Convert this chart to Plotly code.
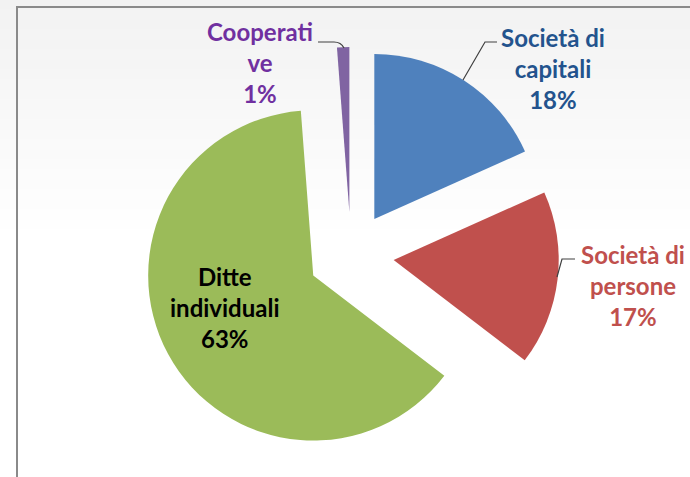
import plotly.graph_objects as go

categories = ["Società di capitali", "Società di persone", "Ditte individuali", "Cooperative"]
display_labels = ["Società di<br>capitali", "Società di<br>persone", "Ditte<br>individuali", "Cooperati<br>ve"]
values = [18.3, 17.1, 63.4, 1.2]

slice_colors = ["#4F81BD", "#C0504D", "#9BBB59", "#8064A2"]
text_colors = ["#23538D", "#C0504D", "#000000", "#7030A0"]

W, H = 690, 477

# label centres in pixels (layout, not data)
label_pos = [(553, 68), (633, 285), (225, 307), (260, 63)]

fig = go.Figure()
fig.add_trace(go.Pie(
    labels=categories,
    values=values,
    textinfo="none",
    sort=False,
    direction="clockwise",
    rotation=0,
    pull=[0.26, 0.26, 0.26, 0.26],
    marker=dict(colors=slice_colors, line=dict(width=0)),
    showlegend=False,
    automargin=False,
    hoverinfo="label+percent",
    domain=dict(x=[143 / W, 559 / W], y=[14 / H, 430 / H]),
))

total = sum(values)
annotations = []
for lab, v, col, (px, py) in zip(display_labels, values, text_colors, label_pos):
    pct = int(round(v / total * 100))
    annotations.append(dict(
        x=px / W, y=1 - py / H, xref="paper", yref="paper",
        xanchor="center", yanchor="middle", align="center",
        text=f"{lab}<br>{pct}%", showarrow=False,
        font=dict(family="Lato", size=24, color=col, weight="bold"),
    ))


def P(x, y):
    return f"{x / W:.5f},{1 - y / H:.5f}"


shapes = []
# soft vertical gradient background
n = 24
for i in range(n):
    c = int(round(242 + (255 - 242) * i / (n - 1)))
    y_top = 1 - i * 10 / H
    y_bot = 1 - (i + 1) * 10 / H
    shapes.append(dict(type="rect", xref="paper", yref="paper", x0=-0.01, x1=1.01,
                       y0=y_bot, y1=y_top + 0.002, fillcolor=f"rgb({c},{c},{c})",
                       line=dict(width=0), layer="below"))
# frame
shapes.append(dict(type="rect", xref="paper", yref="paper", x0=17 / W, x1=1.02,
                   y0=-0.02, y1=1 - 7 / H, line=dict(color="#8A8A8A", width=2),
                   fillcolor="rgba(0,0,0,0)", layer="below"))
# leader lines
leaders = [
    f"M {P(463, 80)} L {P(485, 42)} L {P(497, 42)}",
    f"M {P(557, 277)} L {P(562, 259)} L {P(575, 259)}",
    f"M {P(318, 42)} L {P(334, 42)} Q {P(341, 42)} {P(344, 48)}",
]
for d in leaders:
    shapes.append(dict(type="path", xref="paper", yref="paper", path=d,
                       line=dict(color="#404040", width=1.2), layer="above"))

fig.update_layout(
    width=W, height=H,
    margin=dict(l=0, r=0, t=0, b=0, autoexpand=False),
    paper_bgcolor="white",
    plot_bgcolor="white",
    shapes=shapes,
    annotations=annotations,
)

fig.write_html("out.html", config={"displayModeBar": False},
               post_script="document.body.style.margin='0';")
